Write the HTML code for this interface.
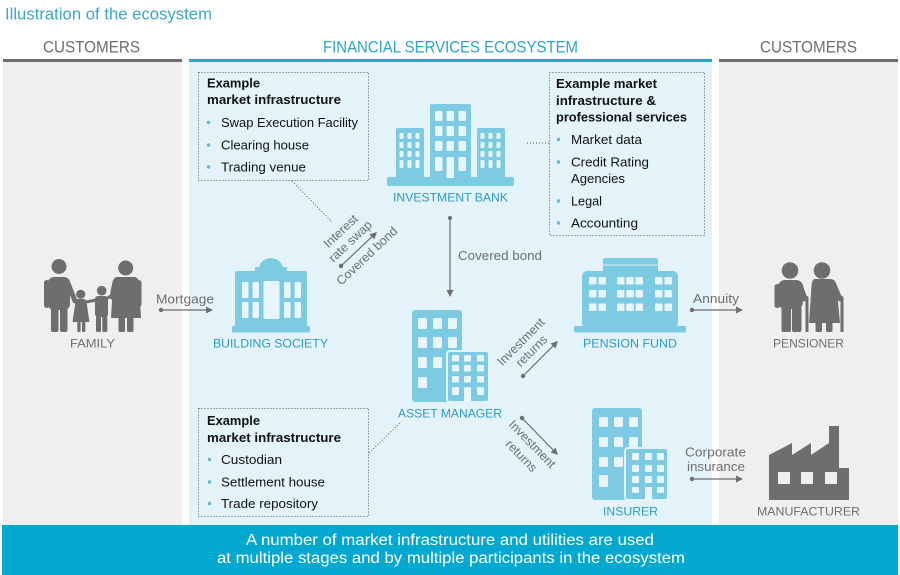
<!DOCTYPE html>
<html><head><meta charset="utf-8">
<style>
html,body{margin:0;padding:0;background:#fff;}
svg{display:block;}
text{font-family:"Liberation Sans",Arial,sans-serif;}
</style></head><body>
<svg width="900" height="575" viewBox="0 0 900 575" xmlns="http://www.w3.org/2000/svg">
<rect width="900" height="575" fill="#fff"/>

<!-- title -->
<text x="5" y="19.5" font-size="17" fill="#3aa7c4" textLength="207" lengthAdjust="spacingAndGlyphs">Illustration of the ecosystem</text>

<!-- headers -->
<text x="43" y="52.5" font-size="17" fill="#6d6e70" textLength="97" lengthAdjust="spacingAndGlyphs">CUSTOMERS</text>
<text x="323" y="52.5" font-size="17" fill="#2aa4c8" textLength="255" lengthAdjust="spacingAndGlyphs">FINANCIAL SERVICES ECOSYSTEM</text>
<text x="760" y="52.5" font-size="17" fill="#6d6e70" textLength="97" lengthAdjust="spacingAndGlyphs">CUSTOMERS</text>
<rect x="3" y="59" width="179" height="3" fill="#6d6e70"/>
<rect x="189" y="59" width="523" height="3" fill="#2aa8cc"/>
<rect x="719" y="59" width="179" height="3" fill="#6d6e70"/>

<!-- panels -->
<rect x="3" y="62" width="179" height="463" fill="#efefef"/>
<rect x="189" y="62" width="523" height="463" fill="#e3f3f9"/>
<rect x="719" y="62" width="179" height="463" fill="#efefef"/>

<!-- banner -->
<rect x="2" y="525" width="896" height="50" fill="#02a8cf"/>
<text x="246" y="545" font-size="15.5" fill="#fff" textLength="408" lengthAdjust="spacingAndGlyphs">A number of market infrastructure and utilities are used</text>
<text x="217" y="563" font-size="15.5" fill="#fff" textLength="468" lengthAdjust="spacingAndGlyphs">at multiple stages and by multiple participants in the ecosystem</text>

<!-- Box 1 -->
<rect x="198.5" y="72.5" width="170" height="108" fill="none" stroke="#555" stroke-width="1" stroke-dasharray="1,2"/>
<text x="207" y="87.5" font-size="13" font-weight="bold" fill="#111" textLength="53" lengthAdjust="spacingAndGlyphs">Example</text>
<text x="207" y="104" font-size="13" font-weight="bold" fill="#111" textLength="134" lengthAdjust="spacingAndGlyphs">market infrastructure</text>
<circle cx="208.5" cy="122.5" r="1.7" fill="#5bbad5"/>
<text x="221" y="127" font-size="13" fill="#111" textLength="137" lengthAdjust="spacingAndGlyphs">Swap Execution Facility</text>
<circle cx="208.5" cy="145" r="1.7" fill="#5bbad5"/>
<text x="221" y="149.5" font-size="13" fill="#111" textLength="88" lengthAdjust="spacingAndGlyphs">Clearing house</text>
<circle cx="208.5" cy="167" r="1.7" fill="#5bbad5"/>
<text x="221" y="171.5" font-size="13" fill="#111" textLength="85" lengthAdjust="spacingAndGlyphs">Trading venue</text>

<!-- Box 2 -->
<rect x="549.5" y="72.5" width="155" height="163" fill="none" stroke="#555" stroke-width="1" stroke-dasharray="1,2"/>
<text x="556" y="88" font-size="13" font-weight="bold" fill="#111" textLength="101" lengthAdjust="spacingAndGlyphs">Example market</text>
<text x="556" y="105" font-size="13" font-weight="bold" fill="#111" textLength="100" lengthAdjust="spacingAndGlyphs">infrastructure &amp;</text>
<text x="556" y="121.5" font-size="13" font-weight="bold" fill="#111" textLength="131" lengthAdjust="spacingAndGlyphs">professional services</text>
<circle cx="558.5" cy="139.5" r="1.7" fill="#5bbad5"/>
<text x="571" y="144" font-size="13" fill="#111" textLength="71" lengthAdjust="spacingAndGlyphs">Market data</text>
<circle cx="558.5" cy="162" r="1.7" fill="#5bbad5"/>
<text x="571" y="166.5" font-size="13" fill="#111" textLength="78" lengthAdjust="spacingAndGlyphs">Credit Rating</text>
<text x="571" y="183" font-size="13" fill="#111" textLength="54" lengthAdjust="spacingAndGlyphs">Agencies</text>
<circle cx="558.5" cy="201" r="1.7" fill="#5bbad5"/>
<text x="571" y="205.5" font-size="13" fill="#111" textLength="31" lengthAdjust="spacingAndGlyphs">Legal</text>
<circle cx="558.5" cy="223" r="1.7" fill="#5bbad5"/>
<text x="571" y="227.5" font-size="13" fill="#111" textLength="67" lengthAdjust="spacingAndGlyphs">Accounting</text>

<!-- Box 3 -->
<rect x="198.5" y="408.5" width="170" height="108" fill="none" stroke="#555" stroke-width="1" stroke-dasharray="1,2"/>
<text x="207" y="425" font-size="13" font-weight="bold" fill="#111" textLength="53" lengthAdjust="spacingAndGlyphs">Example</text>
<text x="207" y="442" font-size="13" font-weight="bold" fill="#111" textLength="134" lengthAdjust="spacingAndGlyphs">market infrastructure</text>
<circle cx="209.5" cy="459.5" r="1.7" fill="#5bbad5"/>
<text x="221" y="464" font-size="13" fill="#111" textLength="61" lengthAdjust="spacingAndGlyphs">Custodian</text>
<circle cx="209.5" cy="482" r="1.7" fill="#5bbad5"/>
<text x="221" y="486.5" font-size="13" fill="#111" textLength="104" lengthAdjust="spacingAndGlyphs">Settlement house</text>
<circle cx="209.5" cy="503.5" r="1.7" fill="#5bbad5"/>
<text x="221" y="508" font-size="13" fill="#111" textLength="97" lengthAdjust="spacingAndGlyphs">Trade repository</text>

<!-- dotted connectors -->
<g stroke="#555" stroke-width="1" stroke-dasharray="1,2" fill="none">
<line x1="292" y1="181" x2="332" y2="222"/>
<line x1="527" y1="143" x2="549" y2="143"/>
<line x1="369" y1="453" x2="400" y2="423"/>
</g>

<!-- Investment bank icon -->
<g fill="#7dcbe2">
<rect x="387" y="177" width="127" height="9" rx="2"/>
<rect x="396" y="128" width="28" height="51" rx="2"/>
<rect x="430" y="104" width="41" height="75" rx="2"/>
<rect x="477" y="128" width="28" height="51" rx="2"/>
</g>
<g fill="#e8f6fb">
<rect x="399.5" y="133" width="4" height="6" rx="1"/><rect x="407.5" y="133" width="4" height="6" rx="1"/><rect x="415.5" y="133" width="4" height="6" rx="1"/>
<rect x="399.5" y="142" width="4" height="6" rx="1"/><rect x="407.5" y="142" width="4" height="6" rx="1"/><rect x="415.5" y="142" width="4" height="6" rx="1"/>
<rect x="399.5" y="151" width="4" height="6" rx="1"/><rect x="407.5" y="151" width="4" height="6" rx="1"/><rect x="415.5" y="151" width="4" height="6" rx="1"/>
<rect x="399.5" y="160" width="4" height="8" rx="1"/><rect x="407.5" y="160" width="4" height="8" rx="1"/><rect x="415.5" y="160" width="4" height="8" rx="1"/>
<rect x="480.5" y="133" width="4" height="6" rx="1"/><rect x="488.5" y="133" width="4" height="6" rx="1"/><rect x="496.5" y="133" width="4" height="6" rx="1"/>
<rect x="480.5" y="142" width="4" height="6" rx="1"/><rect x="488.5" y="142" width="4" height="6" rx="1"/><rect x="496.5" y="142" width="4" height="6" rx="1"/>
<rect x="480.5" y="151" width="4" height="6" rx="1"/><rect x="488.5" y="151" width="4" height="6" rx="1"/><rect x="496.5" y="151" width="4" height="6" rx="1"/>
<rect x="480.5" y="160" width="4" height="8" rx="1"/><rect x="488.5" y="160" width="4" height="8" rx="1"/><rect x="496.5" y="160" width="4" height="8" rx="1"/>
<rect x="435" y="111" width="7.5" height="10" rx="1.5"/><rect x="446.5" y="111" width="7.5" height="10" rx="1.5"/><rect x="458.5" y="111" width="7.5" height="10" rx="1.5"/>
<rect x="435" y="126" width="7.5" height="10" rx="1.5"/><rect x="446.5" y="126" width="7.5" height="10" rx="1.5"/><rect x="458.5" y="126" width="7.5" height="10" rx="1.5"/>
<rect x="435" y="141" width="7.5" height="10" rx="1.5"/><rect x="446.5" y="141" width="7.5" height="10" rx="1.5"/><rect x="458.5" y="141" width="7.5" height="10" rx="1.5"/>
<rect x="435" y="157" width="7.5" height="14" rx="1.5"/><rect x="446.5" y="157" width="7.5" height="21" rx="1.5"/><rect x="458.5" y="157" width="7.5" height="14" rx="1.5"/>
</g>
<text x="393" y="201.7" font-size="12" fill="#2a9cc3" textLength="115" lengthAdjust="spacingAndGlyphs">INVESTMENT BANK</text>

<!-- Asset manager icon -->
<g transform="translate(412,310)">
<rect x="0" y="0" width="50" height="92" rx="3" fill="#7dcbe2"/>
<g fill="#e8f6fb">
<rect x="6" y="8" width="9" height="11" rx="1.5"/><rect x="21" y="8" width="9" height="11" rx="1.5"/><rect x="36" y="8" width="9" height="11" rx="1.5"/>
<rect x="6" y="27" width="9" height="11" rx="1.5"/><rect x="21" y="27" width="9" height="11" rx="1.5"/><rect x="36" y="27" width="9" height="11" rx="1.5"/>
<rect x="6" y="47" width="9" height="11" rx="1.5"/><rect x="21" y="47" width="9" height="11" rx="1.5"/>
<rect x="6" y="67" width="9" height="11" rx="1.5"/>
</g>
<rect x="35" y="41" width="42" height="51" rx="3" fill="#7dcbe2" stroke="#e3f3f9" stroke-width="2"/>
<g fill="#e8f6fb">
<rect x="40" y="45" width="7" height="6.5" rx="1"/><rect x="52" y="45" width="7" height="6.5" rx="1"/><rect x="65" y="45" width="7" height="6.5" rx="1"/>
<rect x="40" y="55" width="7" height="6.5" rx="1"/><rect x="52" y="55" width="7" height="6.5" rx="1"/><rect x="65" y="55" width="7" height="6.5" rx="1"/>
<rect x="40" y="66" width="7" height="6.5" rx="1"/><rect x="52" y="66" width="7" height="6.5" rx="1"/><rect x="65" y="66" width="7" height="6.5" rx="1"/>
<rect x="40" y="77" width="7" height="8" rx="1"/><rect x="52" y="77" width="7" height="15" rx="1"/><rect x="65" y="77" width="7" height="8" rx="1"/>
</g>
</g>
<text x="398" y="417.7" font-size="12" fill="#2a9cc3" textLength="104" lengthAdjust="spacingAndGlyphs">ASSET MANAGER</text>

<!-- Insurer icon -->
<g transform="translate(592,408)">
<rect x="0" y="0" width="50" height="92" rx="3" fill="#7dcbe2"/>
<g fill="#e8f6fb">
<rect x="7" y="9" width="9" height="10" rx="1.5"/><rect x="22" y="9" width="9" height="10" rx="1.5"/><rect x="37" y="9" width="9" height="10" rx="1.5"/>
<rect x="7" y="29" width="9" height="10" rx="1.5"/><rect x="22" y="29" width="9" height="10" rx="1.5"/><rect x="37" y="29" width="9" height="10" rx="1.5"/>
<rect x="7" y="49" width="9" height="10" rx="1.5"/><rect x="22" y="49" width="9" height="10" rx="1.5"/>
<rect x="7" y="67" width="9" height="12" rx="1.5"/>
</g>
<rect x="33" y="40" width="43" height="52" rx="3" fill="#7dcbe2" stroke="#e3f3f9" stroke-width="2"/>
<g fill="#e8f6fb">
<rect x="40" y="45" width="7" height="7" rx="1"/><rect x="53" y="45" width="7" height="7" rx="1"/><rect x="65" y="45" width="7" height="7" rx="1"/>
<rect x="40" y="57" width="7" height="7" rx="1"/><rect x="53" y="57" width="7" height="7" rx="1"/><rect x="65" y="57" width="7" height="7" rx="1"/>
<rect x="40" y="68" width="7" height="7" rx="1"/><rect x="53" y="68" width="7" height="7" rx="1"/><rect x="65" y="68" width="7" height="7" rx="1"/>
<rect x="40" y="79" width="7" height="6" rx="1"/><rect x="53" y="79" width="7" height="13" rx="1"/><rect x="65" y="79" width="7" height="6" rx="1"/>
</g>
</g>
<text x="603" y="515.7" font-size="12" fill="#2a9cc3" textLength="55" lengthAdjust="spacingAndGlyphs">INSURER</text>

<!-- Pension fund icon -->
<g fill="#7dcbe2">
<rect x="603" y="258" width="55" height="16" rx="2"/>
<rect x="582" y="271" width="96" height="57" rx="5"/>
<rect x="574" y="326" width="112" height="6.5" rx="1.5"/>
</g>
<rect x="603" y="264.5" width="55" height="1.2" fill="#c6e9f3"/>
<g fill="#e8f6fb">
<rect x="589" y="277" width="7.5" height="7.5" rx="1"/><rect x="598.5" y="277" width="7.5" height="7.5" rx="1"/>
<rect x="617" y="277" width="7.5" height="7.5" rx="1"/><rect x="626.3" y="277" width="7.5" height="7.5" rx="1"/><rect x="635.5" y="277" width="7.5" height="7.5" rx="1"/>
<rect x="655" y="277" width="7.5" height="7.5" rx="1"/><rect x="664.5" y="277" width="7.5" height="7.5" rx="1"/>
<rect x="589" y="290" width="7.5" height="7.5" rx="1"/><rect x="598.5" y="290" width="7.5" height="7.5" rx="1"/>
<rect x="617" y="290" width="7.5" height="7.5" rx="1"/><rect x="626.3" y="290" width="7.5" height="7.5" rx="1"/><rect x="635.5" y="290" width="7.5" height="7.5" rx="1"/>
<rect x="655" y="290" width="7.5" height="7.5" rx="1"/><rect x="664.5" y="290" width="7.5" height="7.5" rx="1"/>
<rect x="589" y="303.5" width="7.5" height="7.5" rx="1"/><rect x="598.5" y="303.5" width="7.5" height="7.5" rx="1"/>
<rect x="617" y="303.5" width="7.5" height="7.5" rx="1"/><rect x="626.3" y="303.5" width="7.5" height="7.5" rx="1"/><rect x="635.5" y="303.5" width="7.5" height="7.5" rx="1"/>
<rect x="655" y="303.5" width="7.5" height="7.5" rx="1"/><rect x="664.5" y="303.5" width="7.5" height="7.5" rx="1"/>
</g>
<text x="583" y="347.7" font-size="12" fill="#2a9cc3" textLength="94" lengthAdjust="spacingAndGlyphs">PENSION FUND</text>

<!-- Building society icon -->
<g fill="#7dcbe2">
<path d="M259,274 L259,269 A12,11 0 0 1 283,269 L283,274 Z"/>
<rect x="255" y="267" width="32" height="7" rx="1.5"/>
<rect x="235" y="271" width="72" height="56" rx="2"/>
<rect x="232" y="326" width="78" height="6.5" rx="1.5"/>
</g>
<g fill="#e8f6fb">
<rect x="242" y="282" width="6.5" height="16" rx="1"/><rect x="252.5" y="282" width="6.5" height="16" rx="1"/>
<rect x="284" y="282" width="6.5" height="16" rx="1"/><rect x="294.5" y="282" width="6.5" height="16" rx="1"/>
<rect x="242" y="302" width="6.5" height="16" rx="1"/><rect x="252.5" y="302" width="6.5" height="16" rx="1"/>
<rect x="284" y="302" width="6.5" height="16" rx="1"/><rect x="294.5" y="302" width="6.5" height="16" rx="1"/>
<rect x="263.5" y="281" width="16" height="38" rx="1.5"/>
</g>
<text x="213" y="347.7" font-size="12" fill="#2a9cc3" textLength="115" lengthAdjust="spacingAndGlyphs">BUILDING SOCIETY</text>

<!-- Family icon -->
<g fill="#6d6e70">
<circle cx="59" cy="266.5" r="7.5"/>
<rect x="48" y="277" width="22" height="33" rx="6"/>
<rect x="44" y="280" width="5.5" height="28" rx="2.7"/>
<line x1="67.5" y1="282" x2="75" y2="301" stroke="#6d6e70" stroke-width="5" stroke-linecap="round"/>
<rect x="51" y="305" width="7.5" height="27" rx="2"/>
<rect x="60" y="305" width="7.5" height="27" rx="2"/>
<circle cx="80.7" cy="294.3" r="4.6"/>
<path d="M78,299 L84,299 Q86,299 86.5,302 L89.5,322 L72.5,322 L75.5,302 Q76,299 78,299 Z"/>
<rect x="77.3" y="320" width="3.3" height="12" rx="1"/>
<rect x="82" y="320" width="3.3" height="12" rx="1"/>
<line x1="86" y1="302" x2="96" y2="300" stroke="#6d6e70" stroke-width="3" stroke-linecap="round"/>
<circle cx="101.7" cy="290.7" r="4.8"/>
<rect x="95" y="296" width="13" height="21" rx="3"/>
<rect x="96" y="314" width="5" height="18" rx="1.5"/>
<rect x="102.3" y="314" width="5" height="18" rx="1.5"/>
<line x1="106" y1="299" x2="114" y2="294" stroke="#6d6e70" stroke-width="3" stroke-linecap="round"/>
<circle cx="125.7" cy="268" r="7.5"/>
<path d="M117,277 L134,277 Q139,277 139,284 L141,318 L111,318 L113,284 Q113,277 117,277 Z"/>
<line x1="115" y1="282" x2="112" y2="297" stroke="#6d6e70" stroke-width="5" stroke-linecap="round"/>
<rect x="136" y="280" width="5.5" height="27" rx="2.7"/>
<rect x="118.5" y="315" width="6.5" height="17" rx="1.5"/>
<rect x="127" y="315" width="6.5" height="17" rx="1.5"/>
</g>
<text x="70" y="347.7" font-size="12" fill="#6d6e70" textLength="45" lengthAdjust="spacingAndGlyphs">FAMILY</text>

<!-- Pensioner icon -->
<g fill="#6d6e70">
<circle cx="790" cy="270.5" r="8.3"/>
<rect x="778" y="280" width="25" height="29" rx="7"/>
<rect x="774.5" y="284" width="5.5" height="24" rx="2.7"/>
<line x1="800" y1="285" x2="805" y2="299" stroke="#6d6e70" stroke-width="5" stroke-linecap="round"/>
<rect x="781.5" y="304" width="9.5" height="28" rx="2"/>
<rect x="792" y="304" width="9.5" height="28" rx="2"/>
<path d="M804,298 Q806,294 808.5,297 L808.5,332 L805.5,332 L805.5,299 Z"/>
<circle cx="822" cy="270.5" r="8.3"/>
<path d="M815,279 L830,279 Q836,279 836.5,286 L840,323 L809,323 L811.5,286 Q812,279 815,279 Z"/>
<line x1="834" y1="285" x2="840" y2="299" stroke="#6d6e70" stroke-width="5" stroke-linecap="round"/>
<path d="M838.5,298 Q841,294 843.5,297 L843.5,332 L840.5,332 L840.5,299 Z"/>
<rect x="815.5" y="321" width="6.5" height="11" rx="1.5"/>
<rect x="826" y="321" width="6.5" height="11" rx="1.5"/>
</g>
<text x="773" y="347.7" font-size="12" fill="#6d6e70" textLength="71" lengthAdjust="spacingAndGlyphs">PENSIONER</text>

<!-- Factory icon -->
<path d="M769,500 L769,455 L792,443 L792,455 L811,443 L811,455 L829,443 L829,426 L839,426 L839,468 L849,468 L849,500 Z" fill="#6d6e70"/>
<g fill="#efefef">
<rect x="778" y="472" width="12" height="12"/>
<rect x="801" y="472" width="12" height="12"/>
<rect x="825" y="472" width="12" height="12"/>
</g>
<text x="757" y="515.7" font-size="12" fill="#6d6e70" textLength="103" lengthAdjust="spacingAndGlyphs">MANUFACTURER</text>

<!-- Connectors -->
<g stroke="#6d6e70" stroke-width="1.2" fill="#6d6e70">
<line x1="161" y1="310" x2="207" y2="310"/>
<circle cx="161" cy="310" r="2.2" stroke="none"/>
<polygon points="213,310 206,306.5 206,313.5" stroke="none"/>
<line x1="692" y1="310" x2="737" y2="310"/>
<circle cx="692" cy="310" r="2.2" stroke="none"/>
<polygon points="743,310 736,306.5 736,313.5" stroke="none"/>
<line x1="692" y1="479" x2="737" y2="479"/>
<circle cx="692" cy="479" r="2.2" stroke="none"/>
<polygon points="743,479 736,475.5 736,482.5" stroke="none"/>
<line x1="450" y1="218" x2="450" y2="291"/>
<circle cx="450" cy="218" r="2" stroke="none"/>
<polygon points="450,297 446.5,290 453.5,290" stroke="none"/>
<g transform="translate(341,266) rotate(-43.4)">
<line x1="0" y1="0" x2="43" y2="0"/>
<circle cx="0" cy="0" r="2.2" stroke="none"/>
<polygon points="49.5,0 42.5,-3.5 42.5,3.5" stroke="none"/>
</g>
<g transform="translate(523,376) rotate(-45)">
<line x1="0" y1="0" x2="43" y2="0"/>
<circle cx="0" cy="0" r="2.2" stroke="none"/>
<polygon points="49.5,0 42.5,-3.5 42.5,3.5" stroke="none"/>
</g>
<g transform="translate(522,418) rotate(45.8)">
<line x1="0" y1="0" x2="45" y2="0"/>
<circle cx="0" cy="0" r="2.2" stroke="none"/>
<polygon points="51.6,0 44.6,-3.5 44.6,3.5" stroke="none"/>
</g>
</g>

<!-- connector labels -->
<g fill="#6d6e70" font-size="12.5">
<text x="156" y="303.5" textLength="58" lengthAdjust="spacingAndGlyphs">Mortgage</text>
<text x="693" y="303" textLength="46" lengthAdjust="spacingAndGlyphs">Annuity</text>
<text x="685" y="456.5" textLength="61" lengthAdjust="spacingAndGlyphs">Corporate</text>
<text x="687" y="471" textLength="58" lengthAdjust="spacingAndGlyphs">insurance</text>
<text x="458" y="260" textLength="84" lengthAdjust="spacingAndGlyphs">Covered bond</text>
<g transform="translate(358.7,248.7) rotate(-43.4)" text-anchor="middle">
<text x="-1" y="-21">Interest</text>
<text x="-1" y="-7">rate swap</text>
<text x="1" y="15">Covered bond</text>
</g>
<g transform="translate(540.5,358.5) rotate(-45)" text-anchor="middle">
<text x="-2" y="-21.5">Investment</text>
<text x="-1" y="-7.5">returns</text>
</g>
<g transform="translate(540,436.5) rotate(45.8)" text-anchor="middle">
<text x="0" y="15">Investment</text>
<text x="1" y="31">returns</text>
</g>
</g>
</svg>
</body></html>
